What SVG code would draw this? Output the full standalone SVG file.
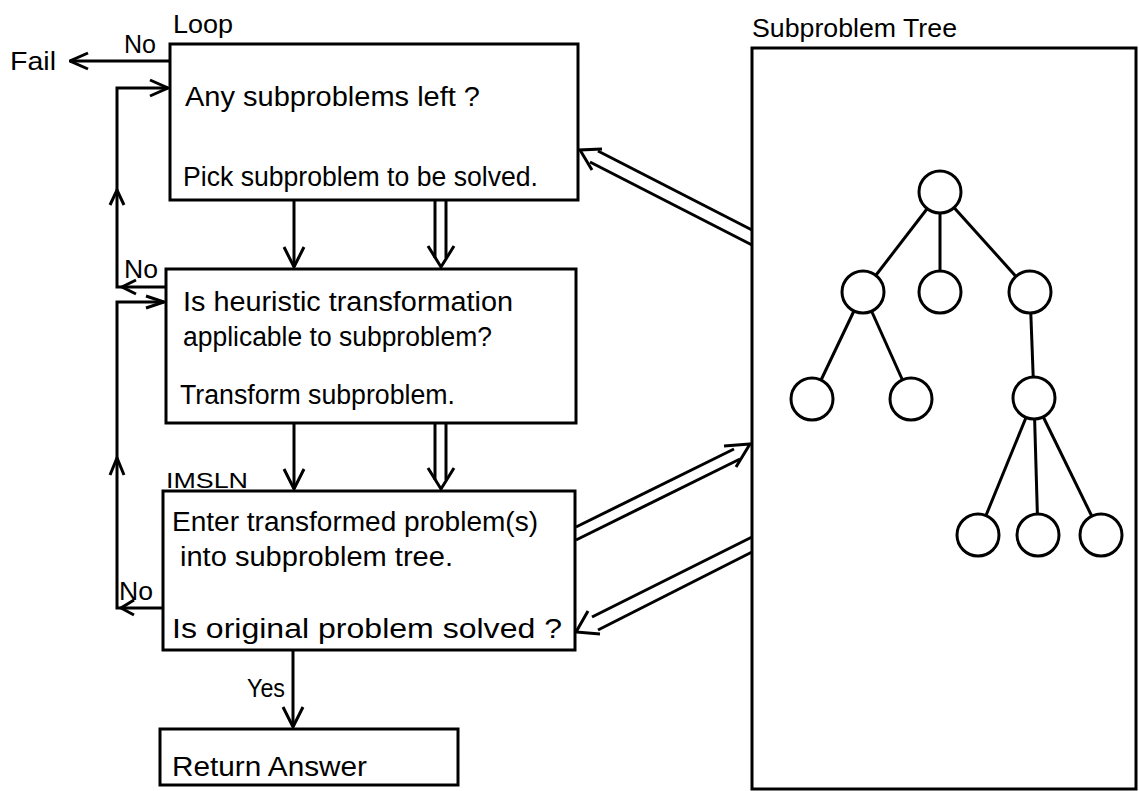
<svg xmlns="http://www.w3.org/2000/svg" width="1139" height="791" viewBox="0 0 1139 791">
<defs>
<marker id="chevL" viewBox="0 0 20 20" refX="19" refY="10" markerWidth="20" markerHeight="20" markerUnits="userSpaceOnUse" orient="auto">
<path d="M1,2 L19,10 L1,18" fill="none" stroke="#000" stroke-width="3"/>
</marker>
<style>
.box{fill:#fff;stroke:#000;stroke-width:3}
.ln{fill:none;stroke:#000;stroke-width:3}
.t{font-family:"Liberation Sans",Arial,sans-serif;font-size:27px;fill:#000}
.l{font-family:"Liberation Sans",Arial,sans-serif;font-size:26px;fill:#000}
.s{font-family:"Liberation Sans",Arial,sans-serif;font-size:22px;fill:#000}
.c{fill:#fff;stroke:#000;stroke-width:3}
</style>
</defs>
<rect width="1139" height="791" fill="#fff"/>

<g id="connectors">
<line class="ln" x1="170" y1="61" x2="70" y2="61" marker-end="url(#chevL)"/>
<polyline class="ln" points="166,287 117,287 117,88 168,88"/>
<path class="ln" d="M150,80 L168,88 L150,96"/>
<path class="ln" d="M110,205 L117,190 L124,205"/>
<path class="ln" d="M136,280 L122,287 L136,294"/>
<polyline class="ln" points="163,608 117,608 117,302 164,302"/>
<path class="ln" d="M146,296 L164,302 L146,308"/>
<path class="ln" d="M110,475 L117,458 L124,475"/>
<path class="ln" d="M134,600 L121,608 L134,615"/>
<line class="ln" x1="294" y1="200" x2="294" y2="267"/>
<path class="ln" d="M284,247 L294,267 L304,247"/>
<line class="ln" x1="435" y1="200" x2="435" y2="258"/>
<line class="ln" x1="446" y1="200" x2="446" y2="258"/>
<path class="ln" d="M428,246 L441,267 L454,246"/>
<line class="ln" x1="294" y1="423" x2="294" y2="489"/>
<path class="ln" d="M284,469 L294,489 L304,469"/>
<line class="ln" x1="435" y1="423" x2="435" y2="480"/>
<line class="ln" x1="446" y1="423" x2="446" y2="480"/>
<path class="ln" d="M428,468 L441,489 L454,468"/>
<line class="ln" x1="293" y1="650" x2="293" y2="727"/>
<path class="ln" d="M283,707 L293,727 L303,707"/>
<line class="ln" x1="752" y1="230" x2="598" y2="151"/>
<line class="ln" x1="752" y1="245" x2="590" y2="162"/>
<path class="ln" d="M602,149 L580,150 L592,170"/>
<line class="ln" x1="576" y1="527" x2="734" y2="449"/>
<line class="ln" x1="576" y1="540" x2="740" y2="459"/>
<path class="ln" d="M724,446 L750,444 L736,467"/>
<line class="ln" x1="752" y1="537" x2="592" y2="617"/>
<line class="ln" x1="752" y1="552" x2="598" y2="630"/>
<path class="ln" d="M588,611 L576,632 L600,634"/>
</g>

<g id="labels">
<text class="l" x="10" y="70" textLength="46" lengthAdjust="spacingAndGlyphs">Fail</text>
<text class="l" x="124" y="53" textLength="32" lengthAdjust="spacingAndGlyphs">No</text>
<text class="l" x="173" y="33" textLength="60" lengthAdjust="spacingAndGlyphs">Loop</text>
<text class="l" x="124" y="278" textLength="34" lengthAdjust="spacingAndGlyphs">No</text>
<text class="l" x="119" y="600" textLength="34" lengthAdjust="spacingAndGlyphs">No</text>
<text class="l" x="247" y="697" textLength="38" lengthAdjust="spacingAndGlyphs">Yes</text>
<text class="s" x="166" y="488" textLength="82" lengthAdjust="spacingAndGlyphs">IMSLN</text>
<text class="l" x="752" y="37" textLength="205" lengthAdjust="spacingAndGlyphs">Subproblem Tree</text>
</g>

<g id="loop">
<rect class="box" x="170" y="44" width="408" height="156"/>
<text class="t" x="185" y="106" textLength="295" lengthAdjust="spacingAndGlyphs">Any subproblems left ?</text>
<text class="t" x="183" y="186" textLength="355" lengthAdjust="spacingAndGlyphs">Pick subproblem to be solved.</text>
</g>

<g id="heuristic">
<rect class="box" x="166" y="269" width="410" height="154"/>
<text class="t" x="183" y="311" textLength="330" lengthAdjust="spacingAndGlyphs">Is heuristic transformation</text>
<text class="t" x="183" y="346" textLength="309" lengthAdjust="spacingAndGlyphs">applicable to subproblem?</text>
<text class="t" x="180" y="404" textLength="275" lengthAdjust="spacingAndGlyphs">Transform subproblem.</text>
</g>

<g id="imsln">
<rect class="box" x="163" y="491" width="412" height="159"/>
<text class="t" x="172" y="531" textLength="366" lengthAdjust="spacingAndGlyphs">Enter transformed problem(s)</text>
<text class="t" x="180" y="566" textLength="273" lengthAdjust="spacingAndGlyphs">into subproblem tree.</text>
<text class="t" x="172" y="638" textLength="390" lengthAdjust="spacingAndGlyphs">Is original problem solved ?</text>
</g>

<g id="return">
<rect class="box" x="160" y="729" width="298" height="56"/>
<text class="t" x="172" y="776" textLength="195" lengthAdjust="spacingAndGlyphs">Return Answer</text>
</g>

<g id="tree">
<rect class="box" x="752" y="48" width="384" height="741"/>
<g class="ln">
<line x1="940" y1="192" x2="863" y2="292"/>
<line x1="940" y1="192" x2="940" y2="292"/>
<line x1="940" y1="192" x2="1030" y2="292"/>
<line x1="863" y1="292" x2="812" y2="399"/>
<line x1="863" y1="292" x2="911" y2="399"/>
<line x1="1030" y1="292" x2="1034" y2="398"/>
<line x1="1034" y1="398" x2="978" y2="535"/>
<line x1="1034" y1="398" x2="1038" y2="535"/>
<line x1="1034" y1="398" x2="1101" y2="535"/>
</g>
<circle class="c" cx="940" cy="192" r="21"/>
<circle class="c" cx="863" cy="292" r="21"/>
<circle class="c" cx="940" cy="292" r="21"/>
<circle class="c" cx="1030" cy="292" r="21"/>
<circle class="c" cx="812" cy="399" r="21"/>
<circle class="c" cx="911" cy="399" r="21"/>
<circle class="c" cx="1034" cy="398" r="21"/>
<circle class="c" cx="978" cy="535" r="21"/>
<circle class="c" cx="1038" cy="535" r="21"/>
<circle class="c" cx="1101" cy="535" r="21"/>
</g>
</svg>
